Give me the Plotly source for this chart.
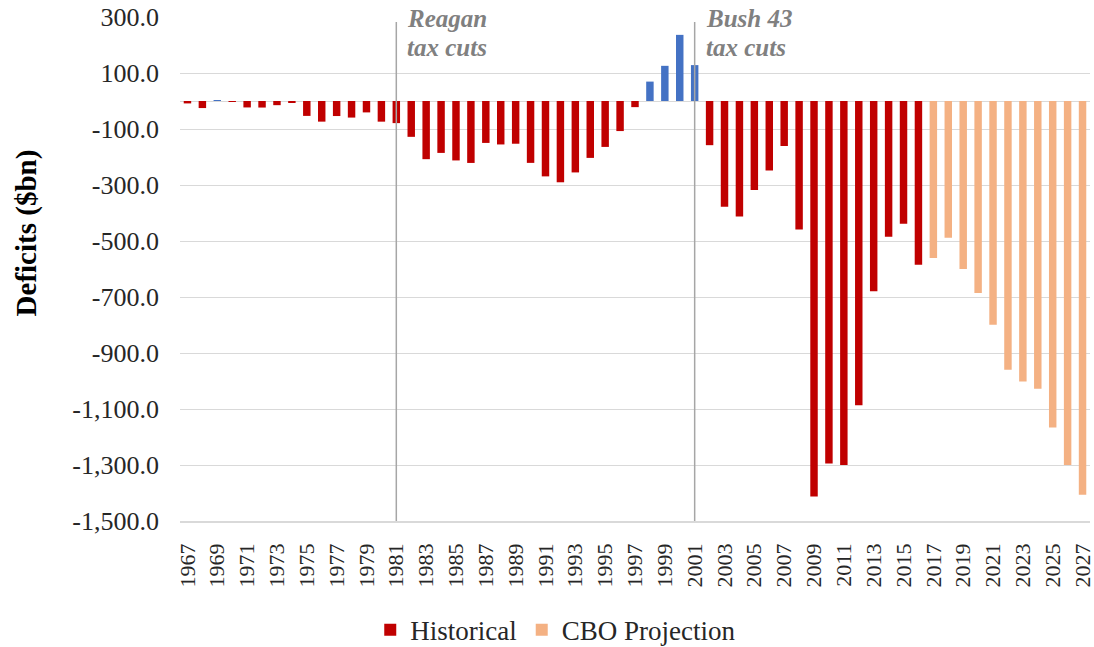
import plotly.graph_objects as go

# ---------------- data ----------------
hist_years = list(range(1967, 2017))
hist_values = [
    -8.6, -25.2, 3.2, -2.8, -23.0, -23.4, -14.9, -6.1, -53.2, -73.7,
    -53.7, -59.2, -40.7, -73.8, -79.0, -128.0, -207.8, -185.4, -212.3, -221.2,
    -149.7, -155.2, -152.6, -221.0, -269.2, -290.3, -255.1, -203.2, -164.0, -107.4,
    -21.9, 69.3, 125.6, 236.2, 128.2, -157.8, -377.6, -412.7, -318.3, -248.2,
    -160.7, -458.6, -1412.7, -1294.4, -1299.6, -1087.0, -679.8, -484.6, -438.5, -584.7,
]
proj_years = list(range(2017, 2028))
proj_values = [-561, -488, -600, -686, -799, -960, -1002, -1028, -1166, -1300, -1406]

x_tick_vals = list(range(1967, 2028, 2))
x_tick_text = [str(y) for y in x_tick_vals]
y_tick_vals = [300, 100, -100, -300, -500, -700, -900, -1100, -1300, -1500]
y_tick_text = [f"{v:,.1f}" for v in y_tick_vals]

event_years = [1981, 2001]
event_line1 = ["Reagan", "Bush 43"]
event_line2 = ["tax cuts", "tax cuts"]

# ---------------- style ----------------
RED = "#C00000"
BLUE = "#4472C4"
ORANGE = "#F4B183"
GRID = "#D9D9D9"
TXT = "#262626"
FONT = "Liberation Serif"

deficit_years = [y for y, v in zip(hist_years, hist_values) if v <= 0]
deficit_vals = [v for v in hist_values if v <= 0]
surplus_years = [y for y, v in zip(hist_years, hist_values) if v > 0]
surplus_vals = [v for v in hist_values if v > 0]

fig = go.Figure()
fig.add_trace(go.Bar(x=deficit_years, y=deficit_vals, name="Historical",
                     marker=dict(color=RED, line=dict(width=0)), width=0.5))
fig.add_trace(go.Bar(x=proj_years, y=proj_values, name="CBO Projection",
                     marker=dict(color=ORANGE, line=dict(width=0)), width=0.5))
fig.add_trace(go.Bar(x=surplus_years, y=surplus_vals, name="Surplus", showlegend=False,
                     marker=dict(color=BLUE, line=dict(width=0)), width=0.5))

ann_font = dict(family=FONT, size=25, color="#808080")
for yr, l1, l2 in zip(event_years, event_line1, event_line2):
    fig.add_shape(type="line", xref="x", yref="paper", x0=yr, x1=yr, y0=0, y1=0.99,
                  line=dict(color="#A6A6A6", width=1.5), layer="above")
    fig.add_annotation(x=yr, xref="x", y=0.998, yref="paper", text=f"<b><i>{l1}</i></b>",
                       showarrow=False, xanchor="left", yanchor="middle",
                       xshift=9, font=ann_font)
    fig.add_annotation(x=yr, xref="x", y=0.9385, yref="paper", text=f"<b><i>{l2}</i></b>",
                       showarrow=False, xanchor="left", yanchor="middle",
                       xshift=9, font=ann_font)

fig.add_annotation(x=-0.169, xref="paper", y=0.571, yref="paper",
                   text="<b>Deficits ($bn)</b>", textangle=-90, showarrow=False,
                   xanchor="center", yanchor="middle",
                   font=dict(family=FONT, size=29, color="#000000"))

fig.update_layout(
    width=1094, height=647,
    margin=dict(l=180, r=4, t=17, b=126, autoexpand=False),
    plot_bgcolor="white", paper_bgcolor="white",
    barmode="overlay",
    font=dict(family=FONT, color=TXT),
    showlegend=True,
    legend=dict(orientation="h", xref="container", x=0.508, xanchor="center",
                yref="container", y=0.026, yanchor="middle",
                font=dict(family=FONT, size=27, color=TXT), itemwidth=30),
    xaxis=dict(range=[1966.5, 2027.5], tickmode="array", tickvals=x_tick_vals,
               ticktext=x_tick_text, tickangle=-90, showgrid=False, automargin=False,
               showline=True, linecolor=GRID, linewidth=1.5, ticklabeloverflow="allow",
               ticks="", ticklabelstandoff=12,
               tickfont=dict(family=FONT, size=22, color=TXT)),
    yaxis=dict(range=[-1500, 300], tickmode="array", tickvals=y_tick_vals,
               ticktext=y_tick_text, showgrid=True, gridcolor=GRID, gridwidth=1.3,
               zeroline=True, zerolinecolor=GRID, zerolinewidth=1.3, automargin=False,
               showline=False, ticks="", ticklabelstandoff=20,
               tickfont=dict(family=FONT, size=26, color=TXT)),
)

fig.write_html("out.html", config={"displayModeBar": False},
               post_script="document.body.style.margin='0';")
